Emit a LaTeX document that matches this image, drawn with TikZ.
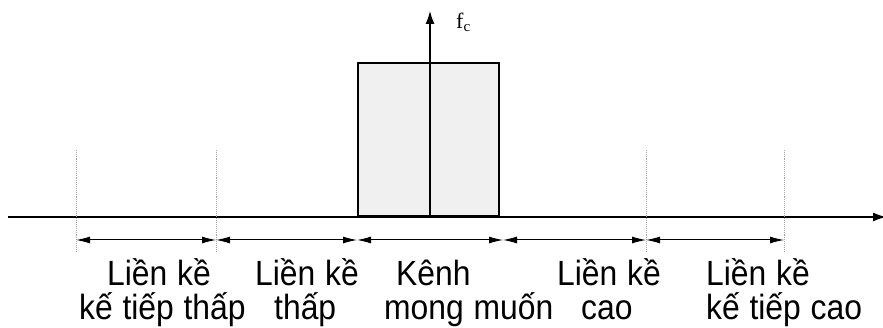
\documentclass[tikz,border=0pt]{standalone}
\usepackage{fontspec}
\setmainfont{Liberation Sans}
\newfontfamily\labelserif{Liberation Serif}
\newfontfamily\bandfont[FakeStretch=0.91,WordSpace=1.1]{Liberation Sans}
\usetikzlibrary{arrows.meta}
\definecolor{boxfill}{HTML}{F0F0F0}
\tikzset{
  axisline/.style={line width=1.2pt,-{Latex[length=13pt,width=9pt]}},
  guide/.style={draw=gray!70,line width=0.9pt,densely dotted},
  span/.style={line width=1pt,{Latex[length=14pt,width=7pt]}-{Latex[length=14pt,width=7pt]}},
  lbl/.style={anchor=base west,inner sep=0pt,font=\bandfont\fontsize{35}{40}\selectfont},
}
\begin{document}
\begin{tikzpicture}[x=1pt,y=-1pt]
\useasboundingbox (0,0) rectangle (883,328);
% frequency axis
\coordinate (a0) at (8,217);
\coordinate (a1) at (886,217);
% desired channel
\node[draw,line width=2pt,fill=boxfill,minimum width=141pt,minimum height=153pt,inner sep=0pt,anchor=south west] (ch) at (357,217) {};
\draw[axisline] (a0) -- (a1);
% carrier
\coordinate (fc0) at (430,217);
\coordinate (fc1) at (430,11);
\draw[axisline] (fc0) -- (fc1);
\node[anchor=base west,inner sep=0pt,font=\fontsize{22}{24}\selectfont\labelserif] (fclbl) at (456,29) {f\raisebox{-3pt}{\fontsize{15}{17}\selectfont c}};
% dotted band guides
\foreach \x/\n in {76/g1,216/g2,646/g5,784/g6}{
  \coordinate (\n a) at (\x,150);
  \coordinate (\n b) at (\x,252);
  \draw[guide] (\n a) -- (\n b);
}
% band widths
\foreach \l/\r/\n in {76/216/s1,216/357/s2,357/503/s3,503/646/s4,646/784/s5}{
  \coordinate (\n l) at (\l,240);
  \coordinate (\n r) at (\r,240);
  \draw[span] (\n l) -- (\n r);
}
% band names
\node[lbl] (t1a) at (107,286) {Liền kề};
\node[lbl] (t1b) at (79,320) {kế tiếp thấp};
\node[lbl] (t2a) at (255,286) {Liền kề};
\node[lbl] (t2b) at (274,320) {thấp};
\node[lbl] (t3a) at (396,286) {Kênh};
\node[lbl] (t3b) at (384,320) {mong muốn};
\node[lbl] (t4a) at (557,286) {Liền kề};
\node[lbl] (t4b) at (581,320) {cao};
\node[lbl] (t5a) at (706,286) {Liền kề};
\node[lbl] (t5b) at (706,320) {kế tiếp cao};
\end{tikzpicture}
\end{document}
